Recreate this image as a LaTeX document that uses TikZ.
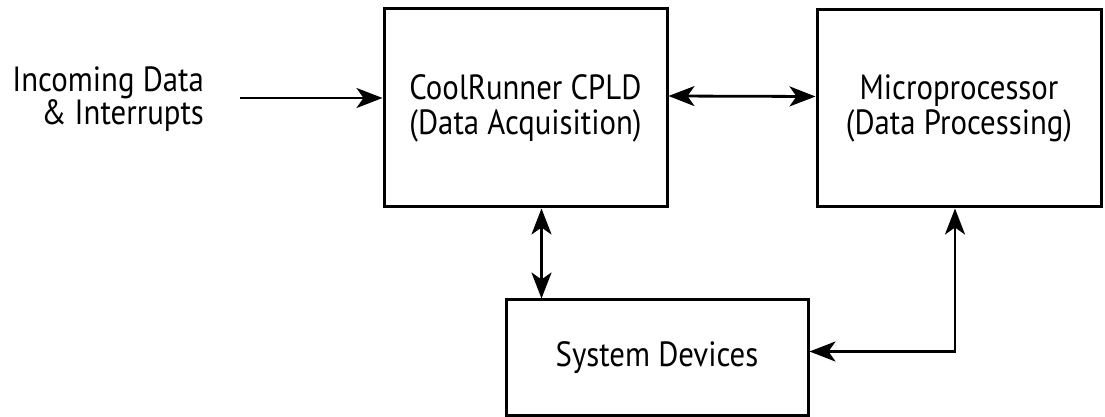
\documentclass[tikz,border=0pt]{standalone}
\usepackage{fontspec}
\setmainfont{PT Sans}[FakeStretch=0.88]
\usetikzlibrary{arrows.meta,positioning}

\begin{document}
\begin{tikzpicture}[x=0.5pt, y=-0.5pt,
        block/.style={draw, line width=1.5pt, align=center, font=\fontsize{17.5}{17.5}\selectfont},
        link/.style={line width=1.4pt, {Stealth[length=13pt,width=10pt,inset=3.5pt]}-{Stealth[length=13pt,width=10pt,inset=3.5pt]}},
        feed/.style={line width=1.4pt, -{Stealth[length=13pt,width=10pt,inset=3.5pt]}}]

            \useasboundingbox (0,0) rectangle (1105,417);

            \node (cpld) [block, minimum width=141.5pt, minimum height=99pt] at (525.5,108) {CoolRunner CPLD\\(Data Acquisition)};
            \node (micro) [block, minimum width=142pt, minimum height=98.5pt] at (959,108.5) {Microprocessor\\(Data Processing)};
            \node (sys) [block, minimum width=151pt, minimum height=57.5pt] at (657,357.5) {System Devices};

            \node (input) [anchor=east, align=right, font=\fontsize{17.5}{16.5}\selectfont] at (211,99) {Incoming Data\\\& Interrupts};
            \coordinate (src) at (240,98);

            \draw [feed] (src) -- (src -| cpld.west);
            \draw [link] ([yshift=6pt]cpld.east) -- ([yshift=6pt]micro.west);
            \draw [link] ([xshift=8pt]cpld.south) -- ([xshift=8pt]cpld.south |- sys.north);
            \draw [link] ([xshift=-2pt]micro.south) |- ([yshift=3pt]sys.east);

        \end{tikzpicture}
\end{document}
